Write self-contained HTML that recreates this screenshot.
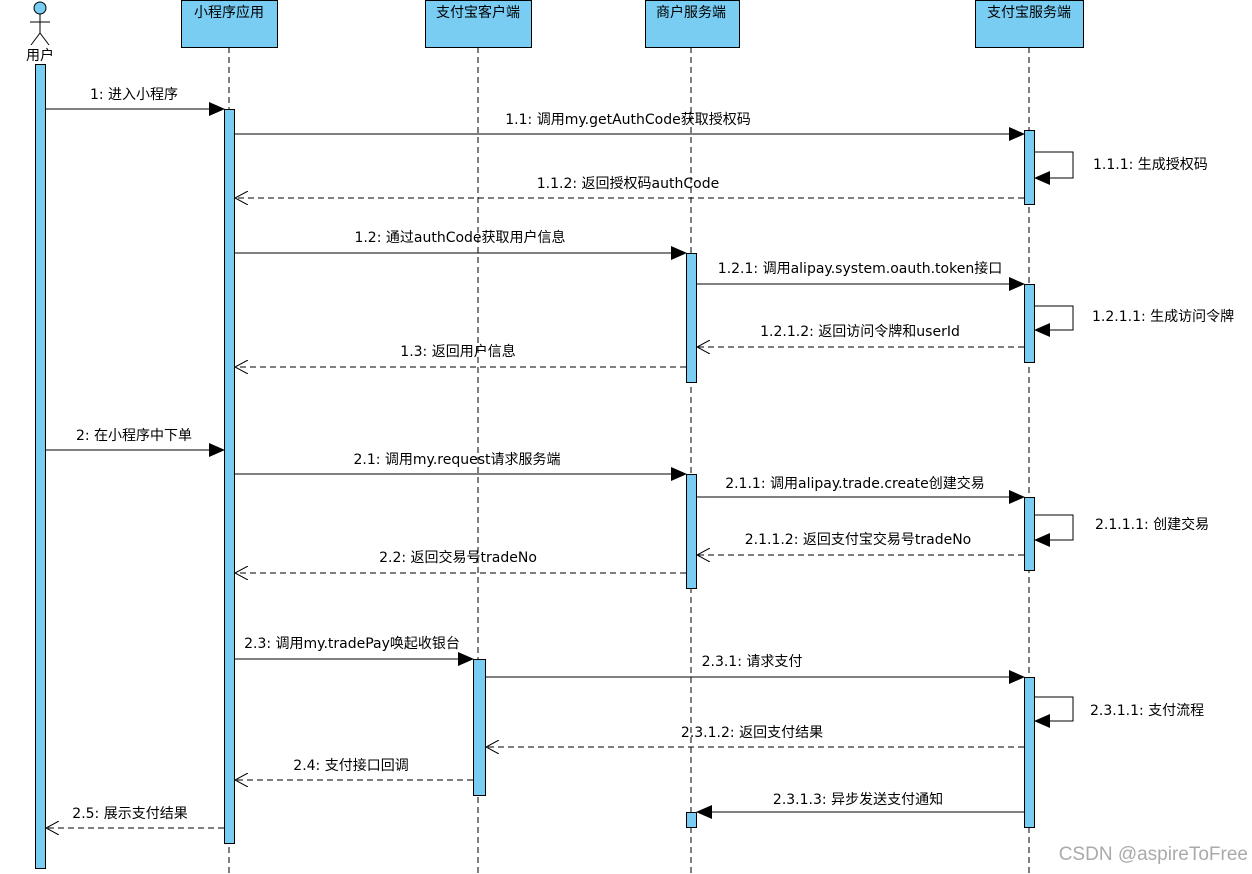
<!DOCTYPE html>
<html><head><meta charset="utf-8"><style>body{margin:0;background:#fff}svg{display:block}text{font-family:"DejaVu Sans","Noto Sans CJK SC",sans-serif;font-size:14px;fill:#000}</style></head><body>
<svg width="1252" height="874" viewBox="0 0 1252 874">
<defs>
<marker id="f" markerWidth="16" markerHeight="14" refX="15" refY="7" orient="auto" markerUnits="userSpaceOnUse"><path d="M0,0L16,7L0,14Z" fill="#000"/></marker>
<marker id="o" markerWidth="14" markerHeight="14" refX="13" refY="7" orient="auto" markerUnits="userSpaceOnUse"><path d="M0,0L13,7L0,14" fill="none" stroke="#000" stroke-width="1"/></marker>
</defs>
<g stroke="#000" stroke-dasharray="6,4" stroke-width="1">
<line x1="229" y1="47" x2="229" y2="874"/><line x1="478" y1="47" x2="478" y2="874"/><line x1="691" y1="47" x2="691" y2="874"/><line x1="1029" y1="47" x2="1029" y2="874"/>
</g>
<g fill="#79CDF3" stroke="#000" stroke-width="1">
<rect x="181.5" y="0.5" width="96" height="47"/><rect x="425.5" y="0.5" width="106" height="47"/><rect x="645.5" y="0.5" width="94" height="47"/><rect x="975.5" y="0.5" width="108" height="47"/>
<circle cx="40" cy="8" r="6"/>
<rect x="35.5" y="64.5" width="10" height="804"/>
<rect x="224.5" y="109.5" width="10" height="734"/>
<rect x="1024.5" y="130.5" width="10" height="74"/><rect x="1024.5" y="284.5" width="10" height="78"/><rect x="1024.5" y="497.5" width="10" height="73"/><rect x="1024.5" y="677.5" width="10" height="150"/>
<rect x="686.5" y="253.5" width="10" height="129"/><rect x="686.5" y="474.5" width="10" height="114"/><rect x="686.5" y="812.5" width="10" height="15"/>
<rect x="473.5" y="659.5" width="12" height="136"/>
</g>
<g stroke="#000" fill="none"><path d="M40,14V33M30,22H50M40,33L31,45M40,33L49,45"/></g>
<g style="font-size:13px" text-anchor="middle"><text x="229" y="17">小程序应用</text><text x="478" y="17">支付宝客户端</text><text x="691" y="17">商户服务端</text><text x="1029" y="17">支付宝服务端</text><text x="40" y="60">用户</text></g>
<g stroke="#000" stroke-width="1" fill="none">
<line x1="46" y1="109" x2="224" y2="109" marker-end="url(#f)"/>
<line x1="235" y1="134" x2="1024" y2="134" marker-end="url(#f)"/>
<path d="M1035,152H1073V178H1035" marker-end="url(#f)"/>
<line x1="1024" y1="198" x2="235" y2="198" stroke-dasharray="6,4" marker-end="url(#o)"/>
<line x1="235" y1="253" x2="686" y2="253" marker-end="url(#f)"/>
<line x1="697" y1="284" x2="1024" y2="284" marker-end="url(#f)"/>
<path d="M1035,306H1073V330H1035" marker-end="url(#f)"/>
<line x1="1024" y1="347" x2="697" y2="347" stroke-dasharray="6,4" marker-end="url(#o)"/>
<line x1="686" y1="367" x2="235" y2="367" stroke-dasharray="6,4" marker-end="url(#o)"/>
<line x1="46" y1="450" x2="224" y2="450" marker-end="url(#f)"/>
<line x1="235" y1="474" x2="686" y2="474" marker-end="url(#f)"/>
<line x1="697" y1="497" x2="1024" y2="497" marker-end="url(#f)"/>
<path d="M1035,515H1073V540H1035" marker-end="url(#f)"/>
<line x1="1024" y1="555" x2="697" y2="555" stroke-dasharray="6,4" marker-end="url(#o)"/>
<line x1="686" y1="573" x2="235" y2="573" stroke-dasharray="6,4" marker-end="url(#o)"/>
<line x1="235" y1="659" x2="473" y2="659" marker-end="url(#f)"/>
<line x1="486" y1="677" x2="1024" y2="677" marker-end="url(#f)"/>
<path d="M1035,697H1073V721H1035" marker-end="url(#f)"/>
<line x1="1024" y1="747" x2="486" y2="747" stroke-dasharray="6,4" marker-end="url(#o)"/>
<line x1="473" y1="780" x2="235" y2="780" stroke-dasharray="6,4" marker-end="url(#o)"/>
<line x1="1024" y1="812" x2="697" y2="812" marker-end="url(#f)"/>
<line x1="224" y1="828" x2="46" y2="828" stroke-dasharray="6,4" marker-end="url(#o)"/>
</g>
<g text-anchor="middle">
<text x="134" y="99">1: 进入小程序</text>
<text x="628" y="124">1.1: 调用my.getAuthCode获取授权码</text>
<text x="628" y="188">1.1.2: 返回授权码authCode</text>
<text x="460" y="242">1.2: 通过authCode获取用户信息</text>
<text x="860" y="273">1.2.1: 调用alipay.system.oauth.token接口</text>
<text x="860" y="336">1.2.1.2: 返回访问令牌和userId</text>
<text x="458" y="356">1.3: 返回用户信息</text>
<text x="134" y="440">2: 在小程序中下单</text>
<text x="457" y="464">2.1: 调用my.request请求服务端</text>
<text x="855" y="488">2.1.1: 调用alipay.trade.create创建交易</text>
<text x="858" y="544">2.1.1.2: 返回支付宝交易号tradeNo</text>
<text x="458" y="562">2.2: 返回交易号tradeNo</text>
<text x="352" y="648">2.3: 调用my.tradePay唤起收银台</text>
<text x="752" y="666">2.3.1: 请求支付</text>
<text x="752" y="737">2.3.1.2: 返回支付结果</text>
<text x="351" y="770">2.4: 支付接口回调</text>
<text x="858" y="804">2.3.1.3: 异步发送支付通知</text>
<text x="130" y="818">2.5: 展示支付结果</text>
</g>
<text x="1093" y="169">1.1.1: 生成授权码</text>
<text x="1092" y="321">1.2.1.1: 生成访问令牌</text>
<text x="1095" y="529">2.1.1.1: 创建交易</text>
<text x="1090" y="715">2.3.1.1: 支付流程</text>
<text x="1248" y="860" text-anchor="end" style="font-family:'Liberation Sans',sans-serif;font-size:19px;fill:#aaa">CSDN @aspireToFree</text>
</svg>
</body></html>
